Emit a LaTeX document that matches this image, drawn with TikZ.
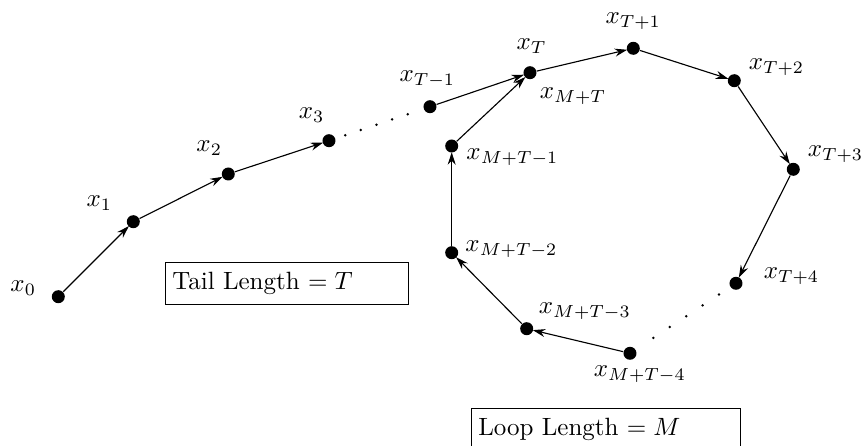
\documentclass[tikz,border=0pt]{standalone}
\usetikzlibrary{arrows.meta,calc}
\begin{document}
\begin{tikzpicture}[x=0.4pt,y=-0.4pt,
  pt/.style={circle,fill=black,inner sep=0pt,minimum size=5.2pt},
  lab/.style={anchor=base west,inner sep=0pt},
  arr/.style={line width=0.45pt,-{Stealth[length=5pt,width=3.2pt]},shorten >=-0.3pt},
  sdot/.style={circle,fill=black,inner sep=0pt,minimum size=1.1pt},
  lenbox/.style={draw,line width=0.5pt,anchor=north west,inner xsep=2.8pt,inner ysep=0pt,minimum height=16.8pt,align=left}]
\useasboundingbox (0,0) rectangle (863,446);
% points
\node[pt] (x0) at (58.3,296.7) {};
\node[pt] (x1) at (133.3,221.7) {};
\node[pt] (x2) at (228.3,174) {};
\node[pt] (x3) at (329,140.7) {};
\node[pt] (xTm1) at (430,106.7) {};
\node[pt] (xT) at (530,72.7) {};
\node[pt] (xTp1) at (633.3,48.3) {};
\node[pt] (xTp2) at (734.3,80.7) {};
\node[pt] (xTp3) at (793.3,169.3) {};
\node[pt] (xTp4) at (736,283.3) {};
\node[pt] (xMTm4) at (630,353.3) {};
\node[pt] (xMTm3) at (526.7,328.7) {};
\node[pt] (xMTm2) at (451.7,252.7) {};
\node[pt] (xMTm1) at (451.7,146) {};
% arrows
\draw[arr] (x0) -- (x1);
\draw[arr] (x1) -- (x2);
\draw[arr] (x2) -- (x3);
\draw[arr] (xTm1) -- (xT);
\draw[arr] (xT) -- (xTp1);
\draw[arr] (xTp1) -- (xTp2);
\draw[arr] (xTp2) -- (xTp3);
\draw[arr] (xTp3) -- (xTp4);
\draw[arr] (xMTm4) -- (xMTm3);
\draw[arr] (xMTm3) -- (xMTm2);
\draw[arr] (xMTm2) -- (xMTm1);
\draw[arr] (xMTm1) -- (xT);
% dotted gaps
\foreach \k in {0.16,0.315,0.47,0.625,0.78}{
  \node[sdot] at ($(x3)!\k!(xTm1)$) {};
  \node[sdot] at ($(xTp4)!\k!(xMTm4)$) {};
}
% labels
\node[lab] (l0) at (10,291.7) {$x_0$};
\node[lab] (l1) at (86,207) {$x_1$};
\node[lab] (l2) at (196,151.7) {$x_2$};
\node[lab] (l3) at (298.3,118.3) {$x_3$};
\node[lab] (lTm1) at (399,81.7) {$x_{T-1}$};
\node[lab] (lT) at (516,49.3) {$x_T$};
\node[lab] (lMT) at (539.3,98.3) {$x_{M+T}$};
\node[lab] (lMTm1) at (466,159.3) {$x_{M+T-1}$};
\node[lab] (lTp1) at (605,23.3) {$x_{T+1}$};
\node[lab] (lTp2) at (748.3,70) {$x_{T+2}$};
\node[lab] (lTp3) at (807.3,156.7) {$x_{T+3}$};
\node[lab] (lTp4) at (763.3,278.3) {$x_{T+4}$};
\node[lab] (lMTm2) at (465,251.7) {$x_{M+T-2}$};
\node[lab] (lMTm3) at (538.3,313.3) {$x_{M+T-3}$};
\node[lab] (lMTm4) at (593.3,376.7) {$x_{M+T-4}$};
% boxes
\node[lenbox,text width=91.7pt] (tail) at (164.7,262) {Tail Length $=T$};
\node[lenbox,text width=102pt] (loop) at (470.7,407.7) {Loop Length $=M$};
\end{tikzpicture}
\end{document}
